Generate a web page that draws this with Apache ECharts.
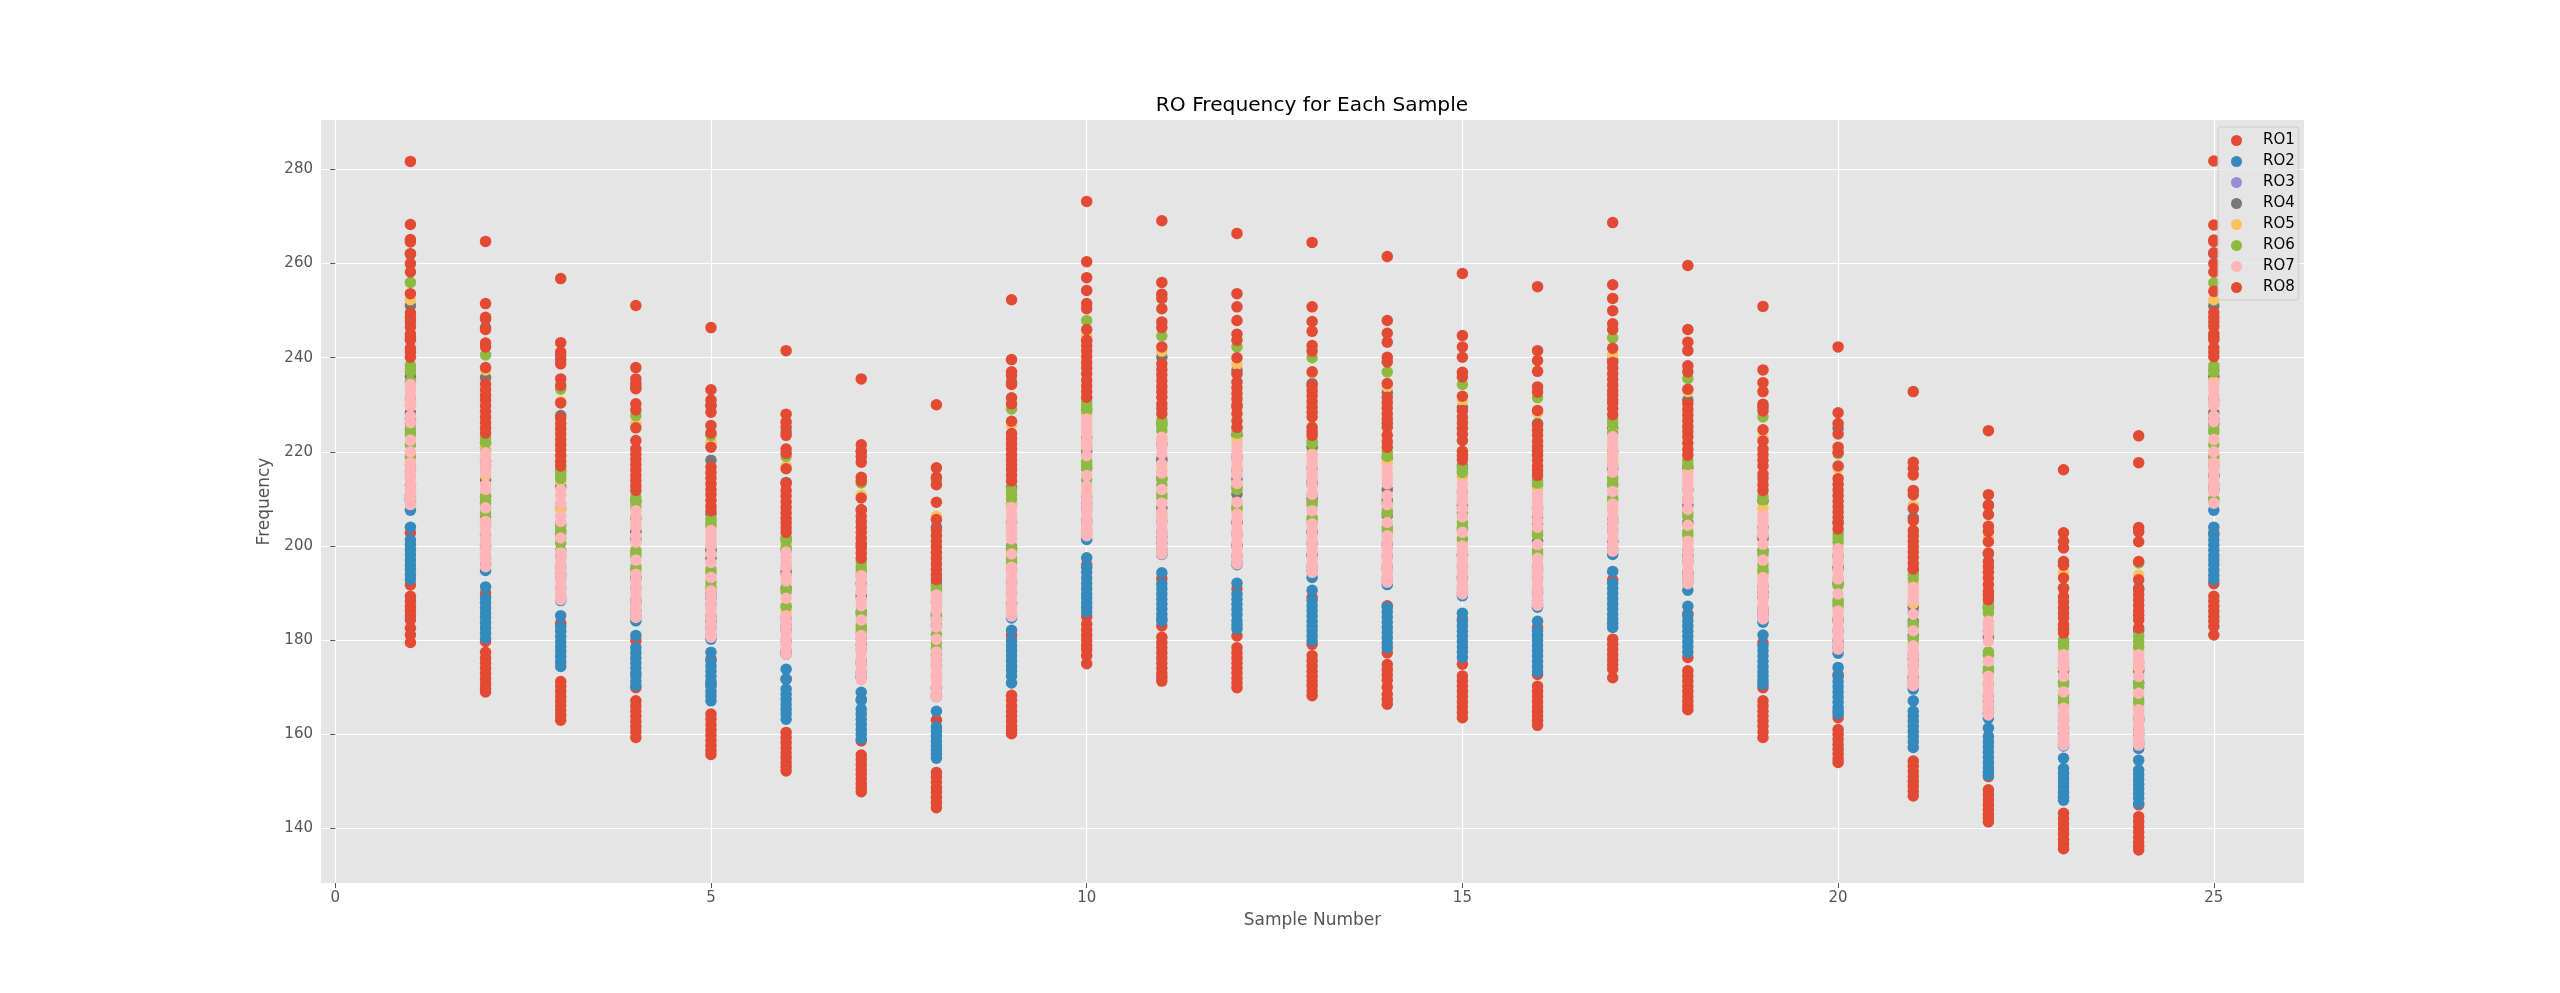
<!DOCTYPE html>
<html>
<head>
<meta charset="utf-8">
<style>html,body{margin:0;padding:0;background:#fff}#chart{width:2560px;height:993px}</style>
<script src="https://cdn.jsdelivr.net/npm/echarts@6/dist/echarts.min.js"></script>
</head>
<body>
<div id="chart"></div>
<script>
// Sample numbers on the horizontal axis; every RO list below has one row per sample.
const samples = [1,2,3,4,5,6,7,8,9,10,11,12,13,14,15,16,17,18,19,20,21,22,23,24,25];
const xTicks = [0,5,10,15,20,25];
const yTicks = [140,160,180,200,220,240,260,280];
const roNames = ['RO1','RO2','RO3','RO4','RO5','RO6','RO7','RO8'];
const roColors = ['#E24A33','#348ABD','#988ED5','#777777','#FBC15E','#8EBA42','#FFB5B8','#E24A33'];

const ro1 = [
[202.8,191.7,189.3,188.3,187.2,186.2,185.2,184.3,182.5,181.1,179.5],
[190,179.7,177.4,176.2,175.1,174,172.9,171.8,170.7,169.8,169],
[183.6,171.2,170.2,169.1,168,167,166,165,164,163],
[179.9,169.9,167.1,166,164.9,163.8,162.7,161.6,160.5,159.3],
[176,170.6,164.3,163.2,162,160.9,159.8,158.7,157.6,156.6,155.7],
[171.7,160.4,159.3,158.2,157.1,156,155,154,153.1,152.2],
[167.4,158.6,155.6,154.6,153.6,152.5,151.5,150.5,149.5,148.6,147.8],
[163,151.9,150.9,149.8,148.7,147.7,146.6,145.5,144.4],
[181,168.3,167.2,166,164.9,163.8,162.8,161.7,160.9,160.1],
[196,185,183.4,182.2,181,179.9,178.8,178,176.7,175],
[193,183,180.6,179.5,178.4,177.3,176.2,175.1,174,172.9,172.1,171.3],
[190.9,180.9,178.4,177.3,176.2,175.1,174,173,171.9,170.9,169.9],
[189.1,179.1,176.7,175.6,174.5,173.4,172.3,171.3,170.3,169.2,168.2],
[187.3,177.3,174.8,173.7,172.6,171.5,170,168.5,167.4,166.4],
[184.5,174.9,172.4,171.3,170.2,169.1,168,166.9,165.8,164.6,163.5],
[182.7,172.7,170.2,169.1,168,166.9,165.8,164.8,163.8,162.9,161.9],
[192.8,180.2,179.1,178,176.9,175.8,174.8,173.8,172],
[185.6,176.3,173.5,172.4,171.3,170.2,169.1,168,167,166,165.2],
[179.5,169.9,167.1,166,164.9,163.8,162.8,161.7,160.5,159.3],
[172.7,163.5,161,160,158.9,157.8,156.8,155.8,154.8,154],
[154.3,153.2,152.1,151,150,149,147.9,146.9],
[151,148.2,147.2,146.1,145.1,144,143,142.2,141.4],
[146.5,143.2,142.1,141,139.9,138.8,137.7,136.7,135.7],
[145,142.5,141.4,140.3,139.2,138.1,137,136.2,135.4],
[202.8,192,189.3,188.3,187.2,186.1,185,184,182.9,181.1]
];

const ro2 = [
[210.6,207.6,204,201.3,200.3,199.2,198.1,197,196,195,193.9,192.9],
[194.8,191.3,189,188,186.9,185.8,184.8,183.7,182.6,181.5,180.4],
[188.4,185.2,182.9,181.9,180.8,179.7,178.6,177.6,176.5,175.4,174.4],
[184.1,181,178.4,177.3,176.2,175.2,174.1,173,172.4,171.3,170.3],
[180.2,177.4,175.6,174.5,173.4,172.3,171.2,170.2,169.1,168.1,167.1],
[177,173.8,171.7,169.6,168.5,167.4,166.3,165.3,164.3,163.2],
[172.4,168.9,167.2,165.3,164.3,163.2,162.1,161,160,159],
[168,164.9,161.6,160.7,159.7,158.6,157.6,156.7,155.8,154.9],
[184.7,182.1,179.9,178.8,177.8,176.7,175.6,174.5,173.5,172.3,170.9],
[201.4,197.5,195.5,194.4,193.2,192,190.9,189.8,189,188,187,186],
[198.2,194.3,191.9,190.9,189.8,188.7,187.6,186.6,185.5,184.6,184.1],
[196,192.1,189.8,188.7,187.6,186.5,185.4,184.1,183.2,182.4],
[193.3,190.6,188.4,187.3,186.2,185.1,184,183,182,180.9,179.9],
[191.8,187,186,184.9,183.8,182.7,181.6,180.5,179.4,178.4],
[189.4,185.7,184.1,183,181.9,180.8,179.7,178.6,177.5,176.3],
[187,184,182,181,179.9,178.8,177.7,176.6,175.5,174.4,173.3],
[198.2,194.6,192.1,191,189.9,188.8,187.7,186.6,185.5,184.5,183.6,182.7],
[190.6,187.2,185.2,184.1,183,181.9,180.8,179.7,178.6,177.4],
[183.8,181.1,178.8,177.7,176.6,175.5,174.4,173.3,172.3,171.4,170.6],
[177.2,174.2,172.3,171.2,170.1,169,167.9,166.8,165.7,164.9,164.3],
[169.6,167.1,164.9,163.9,162.8,161.7,160.6,159.5,158.4,157.2],
[163.4,161.3,159.5,158.4,157.3,156.2,155.1,154,152.9,152,151.3],
[157.5,154.9,152.7,151.7,150.7,149.7,148.7,147.7,146.8,146],
[157,154.5,152.4,151.4,150.4,149.4,148.4,147.4,146.4,145.3],
[207.6,204,202.4,201.3,200.2,199.1,198,197,196,194.9,193.8,192.8]
];

const ro3 = [
[227,217.1,215,213,211,209.5],
[217,204.6,202.3,200,197.6,196],
[203,197.9,195.5,193.2,190.9,189],
[203,193.4,191,188.6,186.3,185.2],
[199,189.9,187.5,185.1,182.7,181],
[194,184.6,182.2,179.9,177.6,177.3],
[189,180.4,178,175.6,173.2,172],
[185,176.9,174.5,172.1,169.7,168.5],
[200,194.9,192.5,190.1,187.7,185.6],
[221,210.4,208,205.6,203.2,202.5],
[218,205.4,203,200.6,199.4,198.6],
[216,205,202.6,200.2,197.8,196.7],
[213,202.9,200.5,198.1,195.7,194.8],
[209,200.4,198,195.6,193.2,192.5],
[208,198.2,195.8,193.4,191,190.1],
[206,195.6,193.2,190.8,188.4,187.6],
[217,205.7,203.3,200.9,199.5,199],
[210,199.2,196.8,194.4,192.9,192.2],
[202,191.5,189.1,186.7,185.4,184.8],
[195,184.4,182,179.6,178.6,178.3],
[186,177,174.6,172.2,171.2,170.5],
[181,170.5,168.1,165.7,164.6,164.3],
[174,163.7,161.3,159,158,157.9],
[174,163.4,161,158.7,158,157.9],
[227,217.2,215,213,212,209.8]
];

const ro4 = [
[262,251.1,236,231,228.3,226,216,213,210],
[246.4,235.8,221.9,218,214,210.5,206,200],
[239.6,227.7,216,212.5,208,204.5,199,194],
[233.8,209.6,206,203,201.5,193,188],
[229.9,218.2,206.8,199.2,197.4,189,184],
[224.2,213.5,201.5,199,194.6,191,183],
[220,207.7,200,192,189.5,186,179,175],
[214,204,192,188,185.5,183,176,170],
[234.8,212.5,209,205,199.5,192,188],
[243.7,229,223,220,216.6,209,205],
[240.1,226,221.7,218.5,214.3,208,202],
[237.3,223.5,219,214.2,211,205,200],
[234.5,221,216.5,213.7,210,203,198],
[232.6,218.8,212,209.8,206.5,200,195],
[229.4,217,211.5,208.7,203.5,198,193],
[226,212.8,208.2,204.7,201,195,190],
[239.5,225,220,216.3,213,205,201],
[231,216.6,212,208.6,205,198,194],
[229.5,209.5,204,201.5,199,190,186],
[225,205,198,195.5,192,184,180],
[206,195,187,184,181,176,172],
[208.7,198.3,187,182,180.5,173,167],
[191,182,175.4,173.4,171,163,160],
[191,182,175.2,173.4,171,163,160],
[262.1,251,236,231,228.3,226,215,212]
];

const ro5 = [
[252.3,234.9,229.9,218.5],
[237.4,220.9,215,205.5],
[230.7,213.8,208,198.8],
[226,208.9,204,194.5],
[222,204,200.3,190.8],
[217,200.1,195.5,186],
[210.8,195.1,190.3,181.5],
[206.3,191,186.2,177.8],
[225.7,209.3,203.5,196],
[244.6,228,222,211.5],
[241.4,222.8,216,206.7],
[238.6,222.4,216.5,207.2],
[236.8,219.6,214,204.8],
[233.8,217.8,210.6,202.6],
[230.9,214.6,209.5,200.4],
[228.3,212.1,206.8,197.8],
[240.6,224.3,218,208.2],
[232.8,215.7,210,201.4],
[223,207.9,202.3,193.6],
[216.5,199.6,193.3,186.8],
[208.6,192,187.8,179.2],
[201.7,183.5,177,172.8],
[194.3,178,174,166],
[193.8,178,174,165.8],
[252.3,235,229.9,218.5]
];

const ro6 = [
[256,238.4,237.6,237,234.8,224.8,224.2,223.7,221.5,219,210],
[240.6,223,222,220,210.6,209.8,209,208,207],
[233.3,215.9,215,214.3,204.2,203.4,202.6,201.8,200.6],
[227.7,210.4,209.4,208.2,199.1,198.6,197.9,195.5,195],
[223.5,205.7,205,204.3,195,194.3,192.4,191.3,190.6],
[219,201.8,201,199.5,190.9,190.2,187.3,187],
[213.4,196.6,195.6,194.6,193.7,186,185.4,183,182.4,181.7],
[214,191.4,190.6,189.6,185.6,184.4,183,181.2,179.4,178.2,177],
[229.1,212,211,210,199.5,198.7,197.5,196.6],
[247.9,231.5,230.6,229.8,228.8,218,217.2,216.4,214],
[244.6,226.7,225.6,224.5,214.2,212.9,211,210.3],
[242.3,224.9,224,212.6,212,208.4,207.9],
[240,222.4,221.8,211,209.5,208.8,206,205.5],
[237,219.9,219,207.5,206.9,204,203.3],
[234.3,216.6,216,215.6,207,205,204,201.5],
[231.5,213.9,213.3,203,202.3,199,198.3],
[244.2,226.8,226,224,214.5,214,213,210.2,209.8],
[235.6,218.2,217.3,207,206.3,203,202.3],
[227.4,210.5,209.8,199,198.2,196,195,194.4],
[219.6,202.6,201.7,200.8,192.5,191.6,188.5,188,187.3],
[194,193,183.5,183,180.5,180],
[187.5,186.6,185.7,177.5,176.8,174,173.5],
[180,179.4,178.7,171,170.5,168.2,167.5,166.8],
[196.4,180.8,179.7,178.6,170.8,170,167.5,166.8],
[255.9,238.3,237.5,237,224.8,224.2,221.5,219,210]
];

const ro7 = [
[234.3,233.1,232,230.8,229.7,227.6,226.2,222.5,220,217.7,216.6,215.5,214.4,213.3,212.2,211.1,210,208.8],
[219.8,218.6,217.4,216.2,215.5,213,212,208.1,205.2,204,202.9,201.7,200.5,199.3,198.2,197,195.6],
[212,210.8,209.1,206.3,205.2,201.7,198.5,197.3,196.1,195,193.8,192.6,191.4,190.3,189.2,188.6],
[207.5,206.3,205.1,204,202.2,200.8,197,194,192.8,191.6,190.4,189.2,188,186.9,185.8,184.8],
[203.3,202.1,201,200,198.3,196.5,193.3,190.5,189.3,188.1,186.9,185.7,184.5,183.3,182.1,181.2,180.6],
[198.7,197.5,196.4,195.5,193.7,192.6,188.9,185.2,184,182.8,181.6,180.5,179.3,178.1,177],
[193.7,192.5,191.4,190.3,188.6,187.3,184.3,181,179.8,178.6,177.4,176.2,175,173.8,172.6,171.6],
[189.6,188.4,187.3,186.2,184.3,182.8,180.2,177.5,176.3,175.1,173.9,172.7,171.5,170.3,169.1,168],
[208.2,207,205.8,204.6,203.4,202.4,201.5,198.3,195.5,194.3,193.1,191.9,190.7,189.5,188.3,187.1,186,185.1],
[227,225.8,224.6,223.5,222.4,221,219.2,215,212.8,211,209.8,208.6,207.4,206.2,205,203.8,202.8,202.2],
[223.1,222,221,219.6,217.4,215.5,212,209.1,207.2,206,204.8,203.6,202.4,201.2,200,198.9,198.3],
[221.3,220.2,219.1,218.1,217.1,215.1,213.3,209.3,206.8,205.6,204.4,203.2,202,200.8,199.6,198.4,197.2,196.2],
[219.2,218,216.8,215.6,214.6,212.8,211,207.5,204.7,203.5,202.3,201.1,199.9,198.7,197.5,196.3,195.3,194.4],
[216.4,215.3,214.2,213.2,210.7,208.8,205,202.2,201,199.8,198.6,197.4,196.2,195,193.8,192.8,192.3],
[213.2,212.1,211,210,209.3,207.9,206.2,202.9,200,198.8,197.6,196.4,195.2,194,192.8,191.6,190.6,189.8],
[211,209.9,208.8,207.8,207.1,205.3,204,200.3,197.4,196.2,195,193.8,192.6,191.4,190.2,189,187.9,187.4],
[223.2,222.1,221,219.9,218.9,217.1,215.7,211.6,208.9,207.5,206.3,205.1,203.9,202.7,201.5,200.3,199.1,198.9],
[215,213.9,212.8,211.8,209.6,207.8,204.4,201,199.8,198.6,197.4,196.2,195,193.8,192.6,192],
[206.5,205.4,204.3,203.3,202.6,200.4,197,193.3,192.1,190.9,189.7,188.5,187.3,186.1,185,184.5],
[199.4,198.3,197.2,196.2,194.8,193,189.8,186.2,185,183.8,182.6,181.4,180.2,179,178.1],
[191.2,190.2,189.3,188.4,185.5,182,178.8,177.6,176.4,175.2,174,172.8,171.6,170.8,170.3],
[184,183,182,181.5,179.7,175.5,172.3,171.1,169.9,168.7,167.5,166.3,165.1,164.1],
[176.9,176,175.2,174.4,172.3,169,165.5,164.3,163.1,161.9,160.7,159.5,158.5,157.7],
[176.9,176,175.2,174.4,172.3,168.7,165.2,164,162.8,161.6,160.4,159.2,158.3,157.7],
[234.4,233.2,232,230.9,229.8,227.6,226.4,222.6,220,217.7,216.6,215.5,214.4,213.3,212.2,211.6,209.1]
];

const ro8 = [
[281.7,268.3,265.1,264.6,262.1,260,258.2,253.6,249.5,248.5,247.6,246.5,245,244.3,243.7,242,241.2,240.1],
[264.7,251.5,248.6,248.2,246,243.1,242.3,237.9,234.4,233.2,232,231,229.8,228.6,227.4,226.2,225,224],
[256.8,243.2,241.2,240.5,238.7,235.5,234.1,230.4,227.2,226,224.9,223.8,222.6,221.5,220.4,219.2,218,217],
[251.1,237.9,235.5,234.5,233.4,230.2,228.9,225.1,222.4,220.6,219.5,218.4,217.3,216.2,215,213.9,212.8,211.8],
[246.4,233.2,231,229.8,228.4,225.6,224,221,216.7,215.6,214.4,213.2,212,210.9,209.7,208.5,207.5],
[241.5,228,226.3,225.2,223.5,220.6,219.7,216.4,213.3,211.8,210.6,209.4,208.2,207,205.9,204.9,203.9,202.9],
[235.5,221.5,220.1,219,217.8,214.6,213.8,210.2,207.7,206.3,205.2,204,202.9,201.7,200.6,199.6,198.5,197.4],
[230,216.6,214.6,213,209.3,205.6,203.4,202.2,201,199.8,198.6,197.4,196.2,195,193.9,192.9],
[252.3,239.6,237,236.2,234.3,231.5,230.2,226.5,223.9,222.8,221.7,220.6,219.4,218.3,217.2,216.2,215,213.8],
[273.2,260.4,257,254.3,251.5,250.4,246,243.7,242.6,241.4,240.2,239,237.8,236.6,235.2,234,232.8,231.6],
[269.1,256,253.5,252.6,250.4,247.6,246.4,242.3,238.7,237.5,236.3,235.1,233.9,232.7,231.6,230.2,229.2,228.1],
[266.4,253.6,250.8,247.9,245,243.7,240,236.5,234.8,233.6,232.4,231.2,230,229.5,228.1,226.6,225.2],
[264.5,250.8,247.7,245.6,242.6,241.4,237,234.1,233,231.9,230.7,229.5,228.4,227.4,225.2,224.3,223.5],
[261.5,247.9,245.2,243.3,240.1,239.1,234.5,231.6,230.5,229.3,228.1,227,226.1,225.2,223.5,222.2,221],
[257.9,244.7,242.3,240.1,236.9,235.9,231.8,228.8,227.4,226.2,225,223.8,222.4,220.1,219.2,218.3],
[255.1,241.5,239.4,237.1,233.8,232.7,228.8,225.7,224.6,223.5,222.3,221.2,220.2,219.3,218.2,217,216,215],
[268.7,255.5,252.6,250,247.2,246,242,239,237.8,236.6,235.4,234.2,233,232,231.1,230.4,229.2,227.9],
[259.6,246,243.3,241.5,238.3,237,233.3,230.2,229,227.8,226.6,225.4,224.3,223.2,221.8,220.5,219.3],
[250.9,237.4,234.7,232.8,230.1,228.7,224.7,222.3,220.6,219.4,218.2,217,215.3,214.3,213,211.8],
[242.3,228.3,226,223.8,221,219.9,217,214.3,213.1,211.9,210.7,209.5,208.3,207.2,206.1,204.9,203.6],
[232.8,217.8,216.5,215.1,211.8,210.9,207.9,205.4,203.3,202.2,201,199.9,198.7,197.6,196.3,195.1],
[224.5,210.9,208.6,206.7,204.2,203.1,200.9,198.5,196.7,195.6,194.4,193.2,191.8,190.4,189.5,188.6],
[216.2,202.8,201,199.6,196.7,195.9,193.2,191,189.2,188.1,186.9,185.8,184.7,183.3,182.4,181.5],
[223.4,217.7,203.9,203,200.9,196.7,192.8,190.7,189.6,188.5,187.4,186.2,185.3,184.3,182.6],
[281.8,268.2,265,264.7,262.3,260,258.2,254.1,249.6,248.6,247.6,246.6,245.1,244.4,243.8,242.1,241.2,240.2]
];

const allRows = [ro1, ro2, ro3, ro4, ro5, ro6, ro7, ro8];

// Flatten one RO's per-sample rows into [sample, frequency] pairs for a scatter series.
function toPoints(rows) {
  const points = [];
  rows.forEach((row, i) => row.forEach(v => points.push([samples[i], v])));
  return points;
}

const textFont = '"DejaVu Sans", sans-serif';
const chart = echarts.init(document.getElementById('chart'), null, { renderer: 'canvas' });
chart.setOption({
  animation: false,
  backgroundColor: '#fff',
  title: {
    text: 'RO Frequency for Each Sample',
    left: 1307, top: 91, textAlign: 'center',
    textStyle: { color: '#000', fontSize: 20.2, fontWeight: 'normal', fontFamily: textFont }
  },
  grid: {
    left: 321, right: 256, top: 120, bottom: 110,
    show: true, backgroundColor: '#E5E5E5', borderWidth: 0
  },
  legend: {
    orient: 'vertical', left: 2218, top: 127,
    padding: [6, 4, 5, 13],
    itemWidth: 11, itemHeight: 11, itemGap: 6,
    backgroundColor: 'rgba(229,229,229,0.8)',
    borderColor: '#CCCCCC', borderWidth: 1, borderRadius: 3,
    icon: 'circle',
    data: roNames,
    textStyle: { color: '#000', fontSize: 15, lineHeight: 15, fontFamily: textFont, padding: [0, 0, 0, 16] }
  },
  xAxis: {
    type: 'value', min: -0.19, max: 26.2,
    name: 'Sample Number', nameLocation: 'middle', nameGap: 29,
    nameTextStyle: { color: '#555555', fontSize: 17, fontFamily: textFont },
    axisLine: { show: false },
    axisTick: { show: true, length: 5, customValues: xTicks, lineStyle: { color: '#555555', width: 1 } },
    axisLabel: { customValues: xTicks, color: '#555555', fontSize: 15, fontFamily: textFont, margin: 8, showMinLabel: true },
    splitLine: { show: true, lineStyle: { color: '#fff', width: 1.2 } }
  },
  yAxis: {
    type: 'value', min: 128.4, max: 290.5,
    name: 'Frequency', nameLocation: 'middle', nameGap: 37, nameRotate: 90,
    nameTextStyle: { color: '#555555', fontSize: 17, fontFamily: textFont },
    axisLine: { show: false },
    axisTick: { show: true, length: 5, customValues: yTicks, lineStyle: { color: '#555555', width: 1 } },
    axisLabel: { customValues: yTicks, color: '#555555', fontSize: 15, fontFamily: textFont, margin: 8 },
    splitLine: { show: true, lineStyle: { color: '#fff', width: 1.2 } }
  },
  series: roNames.map((name, i) => ({
    name,
    type: 'scatter',
    data: toPoints(allRows[i]),
    symbol: 'circle',
    symbolSize: 11.5,
    itemStyle: { color: roColors[i], opacity: 1 },
    z: 2 + i * 0.01,
    silent: true
  }))
});
</script>
</body>
</html>
